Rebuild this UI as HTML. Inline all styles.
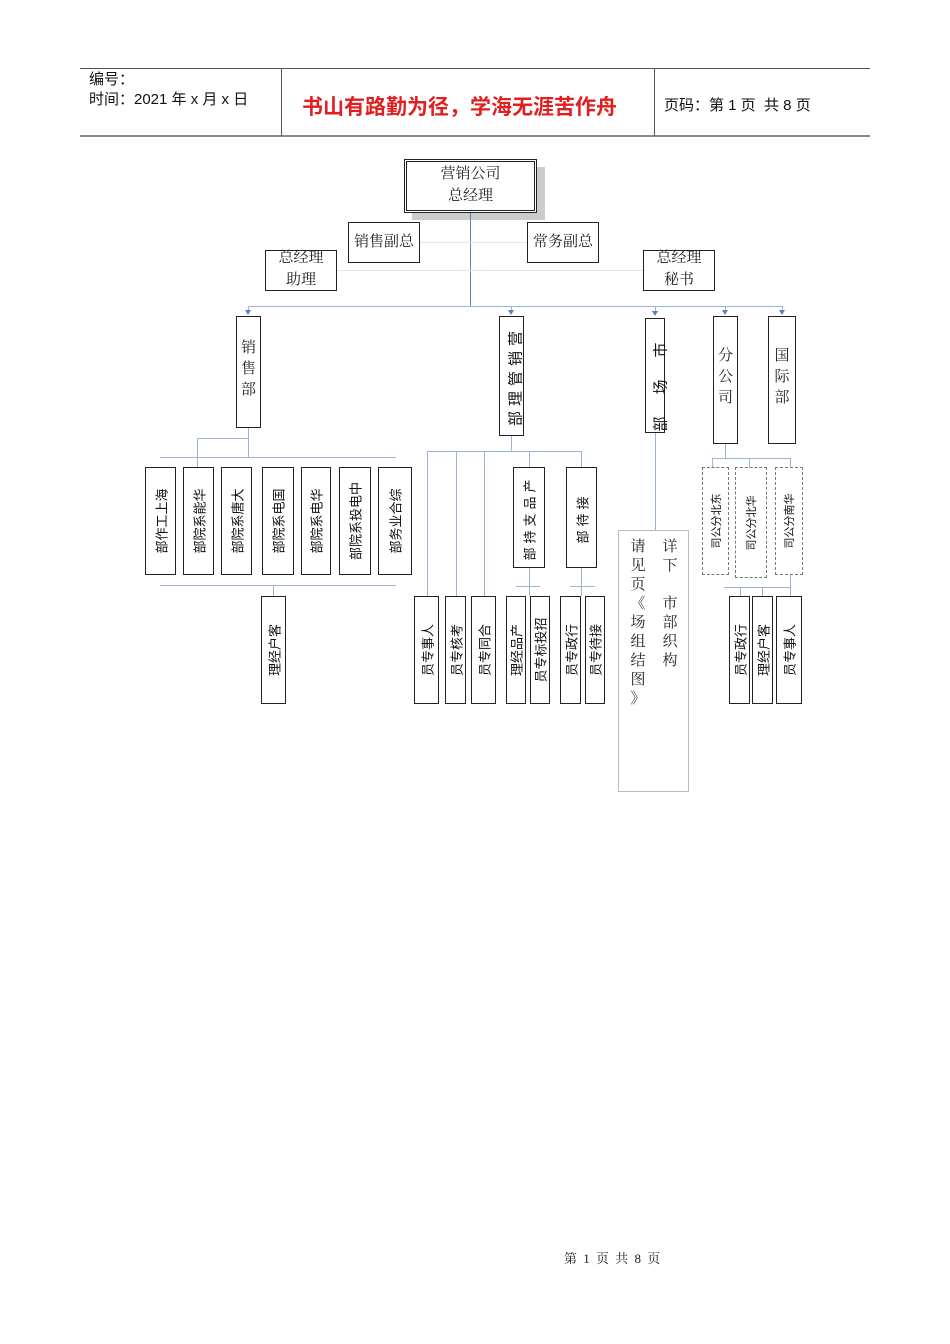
<!DOCTYPE html>
<html><head><meta charset="utf-8"><style>
body{margin:0;width:950px;height:1344px;background:#fff;position:relative;font-family:"Liberation Sans","Noto Sans CJK SC",sans-serif;overflow:hidden}
.a{position:absolute}
.b{position:absolute;border:1.5px solid #222;box-sizing:border-box;background:#fff}
.d{position:absolute;border:1px dashed #777;box-sizing:border-box;background:#fff}
.h{position:absolute;background:#9db4d6;height:1px}
.v{position:absolute;background:#9db4d6;width:1px}
.r{position:absolute;left:50%;top:50%;white-space:nowrap;transform:translate(-50%,-50%) rotate(-90deg);font-size:13px;color:#111}
.t{position:absolute;font-size:15px;color:#222;text-align:center;line-height:22px;font-family:"Liberation Serif","Noto Serif CJK SC",serif}
.vt{position:absolute;text-align:center;font-size:15px;font-family:"Liberation Serif","Noto Serif CJK SC",serif;color:#222;line-height:21px}
.ar{position:absolute;width:0;height:0;border-left:3px solid transparent;border-right:3px solid transparent;border-top:5px solid #5b7fbf}
</style></head><body>
<div class="a" style="left:80px;top:68px;width:790px;height:1px;background:#555"></div>
<div class="a" style="left:80px;top:135px;width:790px;height:2px;background:#888"></div>
<div class="a" style="left:281px;top:68px;width:1px;height:68px;background:#555"></div>
<div class="a" style="left:654px;top:68px;width:1px;height:68px;background:#555"></div>
<div class="a" style="left:89px;top:70px;font-size:15px;line-height:20px;color:#111">编号：<br>时间：2021 年 x 月 x 日</div>
<div class="a" style="left:302px;top:91px;font-size:21px;color:#e02020;font-weight:bold">书山有路勤为径，学海无涯苦作舟</div>
<div class="a" style="left:664px;top:94px;font-size:15px;color:#111">页码：第 1 页&nbsp; 共 8 页</div>

<div class="a" style="left:412px;top:167px;width:133px;height:53px;background:#ccc"></div>
<div class="b" style="left:404px;top:159px;width:133px;height:54px;border:3px double #222"></div>
<div class="t" style="left:404px;top:163px;width:133px">营销公司<br>总经理</div>
<div class="b" style="left:348px;top:222px;width:72px;height:41px"></div><div class="t" style="left:348px;top:231px;width:72px">销售副总</div>
<div class="b" style="left:527px;top:222px;width:72px;height:41px"></div><div class="t" style="left:527px;top:231px;width:72px">常务副总</div>
<div class="b" style="left:265px;top:250px;width:72px;height:41px"></div><div class="t" style="left:265px;top:247px;width:72px">总经理<br>助理</div>
<div class="b" style="left:643px;top:250px;width:72px;height:41px"></div><div class="t" style="left:643px;top:247px;width:72px">总经理<br>秘书</div>
<div class="v" style="left:470px;top:213px;height:93px;background:#5b7fbf"></div>
<div class="h" style="left:420px;top:242px;width:107px;background:#dde6f2"></div>
<div class="h" style="left:337px;top:270px;width:306px;background:#dde6f2"></div>
<div class="h" style="left:248px;top:306px;width:534px"></div>
<div class="ar" style="left:245px;top:310px"></div><div class="ar" style="left:508px;top:310px"></div><div class="ar" style="left:652px;top:311px"></div><div class="ar" style="left:722px;top:310px"></div><div class="ar" style="left:779px;top:310px"></div>
<div class="v" style="left:248px;top:306px;height:4px"></div><div class="v" style="left:511px;top:306px;height:4px"></div><div class="v" style="left:655px;top:306px;height:5px"></div><div class="v" style="left:725px;top:306px;height:4px"></div><div class="v" style="left:782px;top:306px;height:4px"></div>

<div class="b" style="left:236px;top:316px;width:25px;height:112px"></div><div class="vt" style="left:236px;width:25px;top:338px">销<br>售<br>部</div>
<div class="b" style="left:499px;top:316px;width:25px;height:120px"><div class="r" style="font-size:15px;left:65%;letter-spacing:5px">部理管销营</div></div>
<div class="b" style="left:645px;top:318px;width:20px;height:115px"><div class="r" style="font-size:15px;left:75%;letter-spacing:22px">部场市</div></div>
<div class="b" style="left:713px;top:316px;width:25px;height:128px"></div><div class="vt" style="left:713px;width:25px;top:346px">分<br>公<br>司</div>
<div class="b" style="left:768px;top:316px;width:28px;height:128px"></div><div class="vt" style="left:768px;width:28px;top:346px">国<br>际<br>部</div>

<div class="v" style="left:248px;top:428px;height:30px"></div>
<div class="h" style="left:197px;top:438px;width:51px"></div><div class="v" style="left:197px;top:438px;height:29px"></div>
<div class="h" style="left:160px;top:457px;width:236px"></div>
<div class="b" style="left:145px;top:467px;width:31px;height:108px"><div class="r">部作工上海</div></div>
<div class="b" style="left:183px;top:467px;width:31px;height:108px"><div class="r">部院系能华</div></div>
<div class="b" style="left:221px;top:467px;width:31px;height:108px"><div class="r">部院系唐大</div></div>
<div class="b" style="left:262px;top:467px;width:32px;height:108px"><div class="r">部院系电国</div></div>
<div class="b" style="left:301px;top:467px;width:30px;height:108px"><div class="r">部院系电华</div></div>
<div class="b" style="left:339px;top:467px;width:32px;height:108px"><div class="r">部院系投电中</div></div>
<div class="b" style="left:378px;top:467px;width:34px;height:108px"><div class="r">部务业合综</div></div>
<div class="h" style="left:160px;top:585px;width:236px"></div>
<div class="v" style="left:273px;top:585px;height:11px"></div>
<div class="b" style="left:261px;top:596px;width:25px;height:108px"><div class="r">理经户客</div></div>

<div class="v" style="left:511px;top:436px;height:15px"></div>
<div class="h" style="left:427px;top:451px;width:155px"></div>
<div class="v" style="left:427px;top:451px;height:145px"></div><div class="v" style="left:456px;top:451px;height:145px"></div><div class="v" style="left:484px;top:451px;height:145px"></div>
<div class="v" style="left:529px;top:451px;height:16px"></div><div class="v" style="left:581px;top:451px;height:16px"></div>
<div class="b" style="left:513px;top:467px;width:32px;height:101px"><div class="r" style="letter-spacing:4px">部持支品产</div></div>
<div class="b" style="left:566px;top:467px;width:31px;height:101px"><div class="r" style="letter-spacing:4px">部待接</div></div>
<div class="v" style="left:529px;top:568px;height:28px"></div><div class="h" style="left:516px;top:586px;width:24px"></div>
<div class="v" style="left:581px;top:568px;height:28px"></div><div class="h" style="left:570px;top:586px;width:25px"></div>
<div class="b" style="left:414px;top:596px;width:25px;height:108px"><div class="r">员专事人</div></div>
<div class="b" style="left:445px;top:596px;width:21px;height:108px"><div class="r">员专核考</div></div>
<div class="b" style="left:471px;top:596px;width:25px;height:108px"><div class="r">员专同合</div></div>
<div class="b" style="left:506px;top:596px;width:20px;height:108px"><div class="r">理经品产</div></div>
<div class="b" style="left:530px;top:596px;width:20px;height:108px"><div class="r">员专标投招</div></div>
<div class="b" style="left:560px;top:596px;width:21px;height:108px"><div class="r">员专政行</div></div>
<div class="b" style="left:585px;top:596px;width:20px;height:108px"><div class="r">员专待接</div></div>

<div class="v" style="left:655px;top:433px;height:97px"></div>
<div class="a" style="left:618px;top:530px;width:71px;height:262px;border:1px solid #bbb;box-sizing:border-box;background:#fff"></div>
<div class="vt" style="left:628px;width:20px;top:538px;line-height:19px">请<br>见<br>页<br>《<br>场<br>组<br>结<br>图<br>》</div>
<div class="vt" style="left:660px;width:20px;top:538px;line-height:19px">详<br>下<br><br>市<br>部<br>织<br>构</div>

<div class="v" style="left:725px;top:444px;height:14px"></div>
<div class="h" style="left:712px;top:458px;width:79px"></div>
<div class="v" style="left:712px;top:458px;height:9px"></div><div class="v" style="left:749px;top:458px;height:9px"></div><div class="v" style="left:790px;top:458px;height:9px"></div>
<div class="d" style="left:702px;top:467px;width:27px;height:108px"><div class="r" style="font-size:11px">司公分北东</div></div>
<div class="d" style="left:735px;top:467px;width:32px;height:111px"><div class="r" style="font-size:11px">司公分北华</div></div>
<div class="d" style="left:775px;top:467px;width:28px;height:108px"><div class="r" style="font-size:11px">司公分南华</div></div>
<div class="h" style="left:724px;top:587px;width:66px"></div>
<div class="v" style="left:740px;top:587px;height:9px"></div><div class="v" style="left:762px;top:587px;height:9px"></div><div class="v" style="left:790px;top:575px;height:21px"></div>
<div class="b" style="left:729px;top:596px;width:21px;height:108px"><div class="r">员专政行</div></div>
<div class="b" style="left:752px;top:596px;width:21px;height:108px"><div class="r">理经户客</div></div>
<div class="b" style="left:776px;top:596px;width:26px;height:108px"><div class="r">员专事人</div></div>

<div class="a" style="left:564px;top:1248px;font-size:13px;color:#222;font-family:'Liberation Serif','Noto Serif CJK SC',serif;word-spacing:3px">第&nbsp;1&nbsp;页&nbsp;共&nbsp;8&nbsp;页</div>
</body></html>
